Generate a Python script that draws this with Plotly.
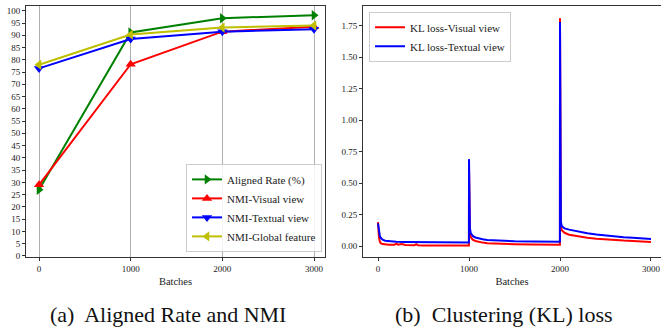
import plotly.graph_objects as go

W, H = 661, 328

# ---- Left panel data ----
batches = [0, 1000, 2000, 3000]
aligned_rate = [27.0, 91.2, 97.0, 98.2]
nmi_visual = [29.0, 78.2, 91.5, 93.5]
nmi_textual = [76.5, 88.5, 91.5, 92.5]
nmi_global = [78.0, 90.3, 93.2, 94.0]

# ---- Right panel data ----
kl_vis_x = [0, 5, 10, 20, 30, 50, 80, 120, 180, 200, 220, 260, 300, 400, 420, 440, 500, 700, 999,
            1000, 1002, 1005, 1010, 1020, 1040, 1070, 1100, 1150, 1200, 1300, 1500, 1700, 1999,
            2000, 2002, 2005, 2010, 2020, 2050, 2100, 2200, 2300, 2400, 2500, 2600, 2700, 2800, 2900, 3000]
kl_vis_y = [0.19, 0.12, 0.07, 0.035, 0.022, 0.015, 0.012, 0.010, 0.009, 0.018, 0.010, 0.015, 0.008, 0.006, 0.015, 0.006, 0.005, 0.004, 0.004,
            0.62, 0.30, 0.15, 0.10, 0.07, 0.05, 0.04, 0.033, 0.027, 0.022, 0.018, 0.014, 0.011, 0.010,
            1.81, 0.60, 0.25, 0.15, 0.125, 0.105, 0.09, 0.075, 0.065, 0.058, 0.052, 0.047, 0.043, 0.040, 0.036, 0.032]
kl_txt_x = [0, 5, 10, 20, 30, 50, 80, 120, 200, 300, 500, 700, 999,
            1000, 1002, 1005, 1010, 1020, 1040, 1070, 1100, 1150, 1200, 1300, 1500, 1700, 1999,
            2000, 2002, 2005, 2010, 2020, 2050, 2100, 2200, 2300, 2400, 2500, 2600, 2700, 2800, 2900, 3000]
kl_txt_y = [0.18, 0.14, 0.11, 0.08, 0.065, 0.05, 0.042, 0.037, 0.033, 0.031, 0.029, 0.028, 0.027,
            0.69, 0.35, 0.20, 0.14, 0.10, 0.08, 0.068, 0.06, 0.053, 0.048, 0.043, 0.038, 0.035, 0.033,
            1.78, 0.60, 0.30, 0.19, 0.157, 0.14, 0.13, 0.115, 0.102, 0.092, 0.083, 0.076, 0.070, 0.065, 0.060, 0.056]

SERIF = "Liberation Serif"

fig = go.Figure()

left_series = [
    ("Aligned Rate (%)", aligned_rate, "#008000", "triangle-right"),
    ("NMI-Visual view", nmi_visual, "#ff0000", "triangle-up"),
    ("NMI-Textual view", nmi_textual, "#0000ff", "triangle-down"),
    ("NMI-Global feature", nmi_global, "#bfbf00", "triangle-left"),
]
for name, vals, col, sym in left_series:
    fig.add_trace(go.Scatter(
        x=batches, y=vals, name=name, mode="lines+markers",
        line=dict(color=col, width=2),
        marker=dict(symbol=sym, size=9, color=col),
        xaxis="x", yaxis="y", legend="legend",
    ))

fig.add_trace(go.Scatter(x=kl_vis_x, y=kl_vis_y, name="KL loss-Visual view", mode="lines",
                         line=dict(color="#ff0000", width=2), xaxis="x2", yaxis="y2", legend="legend2"))
fig.add_trace(go.Scatter(x=kl_txt_x, y=kl_txt_y, name="KL loss-Textual view", mode="lines",
                         line=dict(color="#0000ff", width=2), xaxis="x2", yaxis="y2", legend="legend2"))

ydom = [(H - 260) / H, (H - 6) / H]
tickfont = dict(family=SERIF, size=9, color="#222")
titlefont = dict(family=SERIF, size=10.5, color="#222")

fig.update_layout(
    width=W, height=H, margin=dict(l=0, r=0, t=0, b=0),
    paper_bgcolor="white", plot_bgcolor="white",
    font=dict(family=SERIF, color="#222"),
    xaxis=dict(domain=[26 / W, 325 / W], range=[-142, 3120], tickvals=[0, 1000, 2000, 3000],
               showgrid=True, gridcolor="#b0b0b0", gridwidth=1, zeroline=False,
               showline=True, linecolor="#333", linewidth=1, mirror=True,
               ticks="outside", ticklen=3, tickcolor="#333", tickfont=tickfont,
               title=dict(text="Batches", font=titlefont, standoff=5)),
    yaxis=dict(domain=ydom, range=[-0.4, 102], tickvals=list(range(0, 101, 5)),
               showgrid=False, zeroline=False,
               showline=True, linecolor="#333", linewidth=1, mirror=True,
               ticks="outside", ticklen=3, tickcolor="#333", tickfont=tickfont),
    xaxis2=dict(domain=[363 / W, 1.0], range=[-165, 3110], tickvals=[0, 1000, 2000, 3000],
                showgrid=False, zeroline=False,
                showline=True, linecolor="#333", linewidth=1, mirror=True,
                ticks="outside", ticklen=3, tickcolor="#333", tickfont=tickfont,
                title=dict(text="Batches", font=titlefont, standoff=5), anchor="y2"),
    yaxis2=dict(domain=ydom, range=[-0.086, 1.907], tickvals=[0, 0.25, 0.5, 0.75, 1.0, 1.25, 1.5, 1.75],
                tickformat=".2f", showgrid=False, zeroline=False,
                showline=True, linecolor="#333", linewidth=1, mirror=False,
                ticks="outside", ticklen=3, tickcolor="#333", tickfont=tickfont, anchor="x2"),
    legend=dict(x=322 / W, xanchor="right", y=(H - 255) / H, yanchor="bottom",
                bgcolor="rgba(255,255,255,0.85)", bordercolor="#cccccc", borderwidth=1,
                font=dict(family=SERIF, size=11), tracegroupgap=0, itemwidth=30),
    legend2=dict(x=369 / W, xanchor="left", y=(H - 12) / H, yanchor="top",
                 bgcolor="rgba(255,255,255,0.85)", bordercolor="#cccccc", borderwidth=1,
                 font=dict(family=SERIF, size=11), tracegroupgap=0, itemwidth=30),
    showlegend=True,
    annotations=[
        dict(text="(a)  Aligned Rate and NMI", x=168 / W, y=(H - 318) / H, xref="paper", yref="paper",
             showarrow=False, font=dict(family=SERIF, size=22, color="#111"), xanchor="center", yanchor="middle"),
        dict(text="(b)  Clustering (KL) loss", x=504 / W, y=(H - 318) / H, xref="paper", yref="paper",
             showarrow=False, font=dict(family=SERIF, size=22, color="#111"), xanchor="center", yanchor="middle"),
    ],
)

fig.write_html("out.html")
